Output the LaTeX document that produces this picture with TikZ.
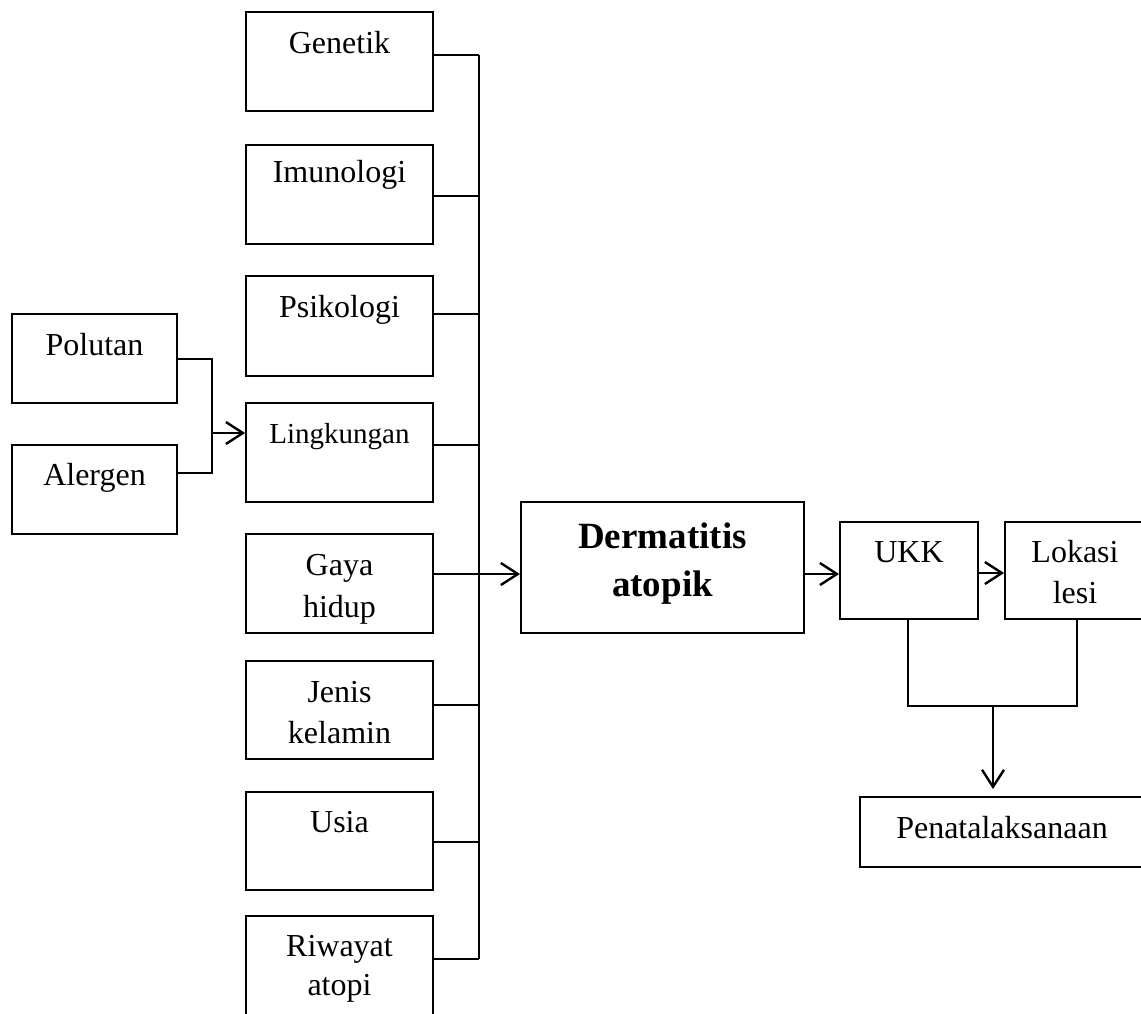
\documentclass[tikz,border=0pt]{standalone}
\usepackage{fontspec}
\setmainfont{Liberation Serif}
\usetikzlibrary{arrows.meta}
\begin{document}
\begin{tikzpicture}[x=1pt,y=-1pt,
  box/.style={draw, line width=1.8pt, inner sep=0pt},
  col/.style={box, minimum width=187pt},
  txt/.style={anchor=base, inner sep=0pt, font=\fontsize{32}{38}\selectfont},
  small/.style={anchor=base, inner sep=0pt, font=\fontsize{29}{34}\selectfont},
  bold/.style={anchor=base, inner sep=0pt, font=\fontsize{37}{44}\selectfont\bfseries},
  conn/.style={line width=1.8pt},
  arr/.style={line width=2pt, -{Straight Barb[length=17pt,width=22pt,line width=2.4pt]}}]
\useasboundingbox (0,0) rectangle (1141,1013);
\clip (0,0) rectangle (1141,1013);
% column boxes
\node[col, minimum height=99pt] (gen) at (339.5,61.5) {};
\node[col, minimum height=99pt] (imu) at (339.5,194.5) {};
\node[col, minimum height=100pt] (psi) at (339.5,326) {};
\node[col, minimum height=99pt] (lin) at (339.5,452.5) {};
\node[col, minimum height=99pt] (gay) at (339.5,583.5) {};
\node[col, minimum height=98pt] (jen) at (339.5,710) {};
\node[col, minimum height=98pt] (usi) at (339.5,841) {};
\node[col, minimum height=104pt] (riw) at (339.5,968) {};
% left boxes
\node[box, minimum width=165pt, minimum height=89pt] (pol) at (94.5,358.5) {};
\node[box, minimum width=165pt, minimum height=89pt] (ale) at (94.5,489.5) {};
% right boxes
\node[box, minimum width=283pt, minimum height=131pt] (der) at (662.5,567.5) {};
\node[box, minimum width=138pt, minimum height=97pt] (ukk) at (909,570.5) {};
\node[box, minimum width=140pt, minimum height=97pt] (lok) at (1075,570.5) {};
\node[box, minimum width=284pt, minimum height=70pt] (pen) at (1002,832) {};
% texts
\node[txt] (tgen) at (339.5,53) {Genetik};
\node[txt] (timu) at (339.5,182) {Imunologi};
\node[txt] (tpsi) at (339.5,317) {Psikologi};
\node[small] (tlin) at (339.5,443) {Lingkungan};
\node[txt] (tgay1) at (339.5,575) {Gaya};
\node[txt] (tgay2) at (339.5,617) {hidup};
\node[txt] (tjen1) at (339.5,702) {Jenis};
\node[txt] (tjen2) at (339.5,743) {kelamin};
\node[txt] (tusi) at (339.5,832) {Usia};
\node[txt] (triw1) at (339.5,956) {Riwayat};
\node[txt] (triw2) at (339.5,995) {atopi};
\node[txt] (tpol) at (94.5,355) {Polutan};
\node[txt] (tale) at (94.5,485) {Alergen};
\node[bold] (tder1) at (662.5,548) {Dermatitis};
\node[bold] (tder2) at (662.5,596) {atopik};
\node[txt] (tukk) at (909,562) {UKK};
\node[txt] (tlok1) at (1075,562) {Lokasi};
\node[txt] (tlok2) at (1075,603) {lesi};
\node[txt] (tpen) at (1002,838) {Penatalaksanaan};
% bus junctions
\coordinate (b1) at (479,55);
\coordinate (b2) at (479,196);
\coordinate (b3) at (479,314);
\coordinate (b4) at (479,445);
\coordinate (b5) at (479,574);
\coordinate (b6) at (479,705);
\coordinate (b7) at (479,842);
\coordinate (b8) at (479,959);
\draw[conn] (b1) -- (b8);
\draw[conn] (gen.east |- b1) -- (b1);
\draw[conn] (imu.east |- b2) -- (b2);
\draw[conn] (psi.east |- b3) -- (b3);
\draw[conn] (lin.east |- b4) -- (b4);
\draw[conn] (jen.east |- b6) -- (b6);
\draw[conn] (usi.east |- b7) -- (b7);
\draw[conn] (riw.east |- b8) -- (b8);
\draw[arr] (gay.east |- b5) -- (der.west |- b5);
% polutan / alergen
\coordinate (p1) at (212,359);
\coordinate (p2) at (212,473);
\coordinate (p3) at (212,433);
\draw[conn] (pol.east |- p1) -- (p1) -- (p2) -- (ale.east |- p2);
\draw[arr] (p3) -- (lin.west |- p3);
% right chain
\coordinate (r1) at (0,574);
\draw[arr] (der.east |- r1) -- (ukk.west |- r1);
\coordinate (r2) at (0,573);
\draw[arr] (ukk.east |- r2) -- (lok.west |- r2);
\coordinate (u1) at (908,706);
\coordinate (u2) at (1077,706);
\coordinate (m1) at (993,706);
\coordinate (m2) at (993,789);
\draw[conn] (ukk.south -| u1) -- (u1) -- (u2) -- (lok.south -| u2);
\draw[arr] (m1) -- (m2);
\end{tikzpicture}
\end{document}
